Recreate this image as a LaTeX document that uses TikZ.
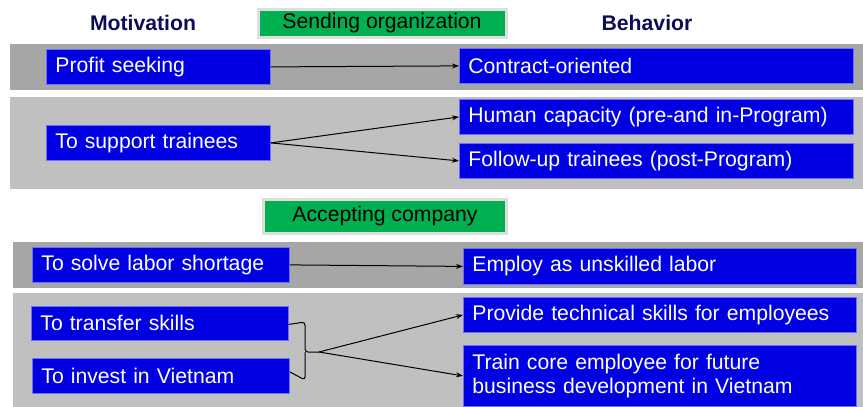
\documentclass[tikz,border=0pt]{standalone}
\usepackage{fontspec}
\setmainfont{Liberation Sans}
\usetikzlibrary{arrows.meta}
\definecolor{bandDark}{RGB}{166,166,166}
\definecolor{bandLight}{RGB}{192,192,192}
\definecolor{boxBlue}{RGB}{0,0,226}
\definecolor{boxEdge}{RGB}{110,110,255}
\definecolor{tagGreen}{RGB}{0,176,80}
\definecolor{tagShadow}{RGB}{222,222,222}
\definecolor{headNavy}{RGB}{12,12,90}
\tikzset{
  txt/.style={font=\fontsize{21.2}{24.5}\selectfont},
  bluebox/.style={txt, fill=boxBlue, draw=boxEdge, line width=0.8pt, text=white,
    inner xsep=9pt, inner ysep=0pt, align=left, anchor=north west},
  greentag/.style={txt, fill=tagGreen, draw=tagShadow, line width=3pt, text=black,
    inner sep=0pt, anchor=north west, align=center},
  header/.style={font=\fontsize{21.2}{24.5}\selectfont\bfseries, text=headNavy},
  conn/.style={line width=1pt, -{Stealth[length=7pt,width=5pt]}},
}
\newcommand{\bbox}[6]{% name, x1, y1, x2, y2, text
  \pgfmathsetmacro{\bw}{#4-#2}\pgfmathsetmacro{\bh}{#5-#3}\pgfmathsetmacro{\tw}{#4-#2-18}
  \node[bluebox, minimum width=\bw pt, minimum height=\bh pt, text width=\tw pt] (#1) at (#2,#3) {#6};}
\begin{document}
\begin{tikzpicture}[x=1pt,y=-1pt]
\useasboundingbox (0,0) rectangle (863,407);
% bands
\fill[bandDark] (10,44) rectangle (863,90);
\fill[bandLight] (10,97) rectangle (863,189);
\fill[bandDark] (13,242) rectangle (863,288);
\fill[bandLight] (13,293) rectangle (863,407);
% headers
\node[header] (mot) at (143,23) {Motivation};
\node[header] (beh) at (647,23) {Behavior};
\node[greentag, minimum width=248pt, minimum height=28pt] (send) at (256.5,7.5) {Sending organization};
\node[greentag, minimum width=243pt, minimum height=34pt] (acc) at (262,197.5) {Accepting company};
% boxes
\bbox{ps}{46}{49}{270}{84}{Profit seeking}
\bbox{co}{459}{48}{853}{83}{Contract-oriented}
\bbox{st}{46}{125}{270}{160}{To support trainees}
\bbox{hc}{459}{99}{853}{134}{Human capacity (pre-and in-Program)}
\bbox{fu}{459}{143}{853}{178}{Follow-up trainees (post-Program)}
\bbox{sl}{32}{247}{289}{282}{To solve labor shortage}
\bbox{eu}{463}{248}{856}{284}{Employ as unskilled labor}
\bbox{ts}{31}{306}{288}{340}{To transfer skills}
\bbox{iv}{32}{358}{289}{393}{To invest in Vietnam}
\bbox{pt}{463}{297}{856}{332}{Provide technical skills for employees}
\bbox{tc}{463}{345}{856}{406}{Train core employee for future\\business development in Vietnam}
% connectors
\draw[conn] (ps.east) -- (co.west);
\draw[conn] (st.east) -- (hc.west);
\draw[conn] (st.east) -- (fu.west);
\draw[conn] (sl.east) -- (eu.west);
\coordinate (tip) at (319,352);
\draw[line width=1pt, rounded corners=3pt] ([yshift=-1pt]ts.east) -- (305,322) -- (305,352) -- (tip);
\draw[line width=1pt, rounded corners=3pt] ([yshift=4pt]iv.east) -- (305,380) -- (305,352);
\draw[conn] (tip) -- (pt.west);
\draw[conn] (tip) -- (tc.west);
\end{tikzpicture}
\end{document}
